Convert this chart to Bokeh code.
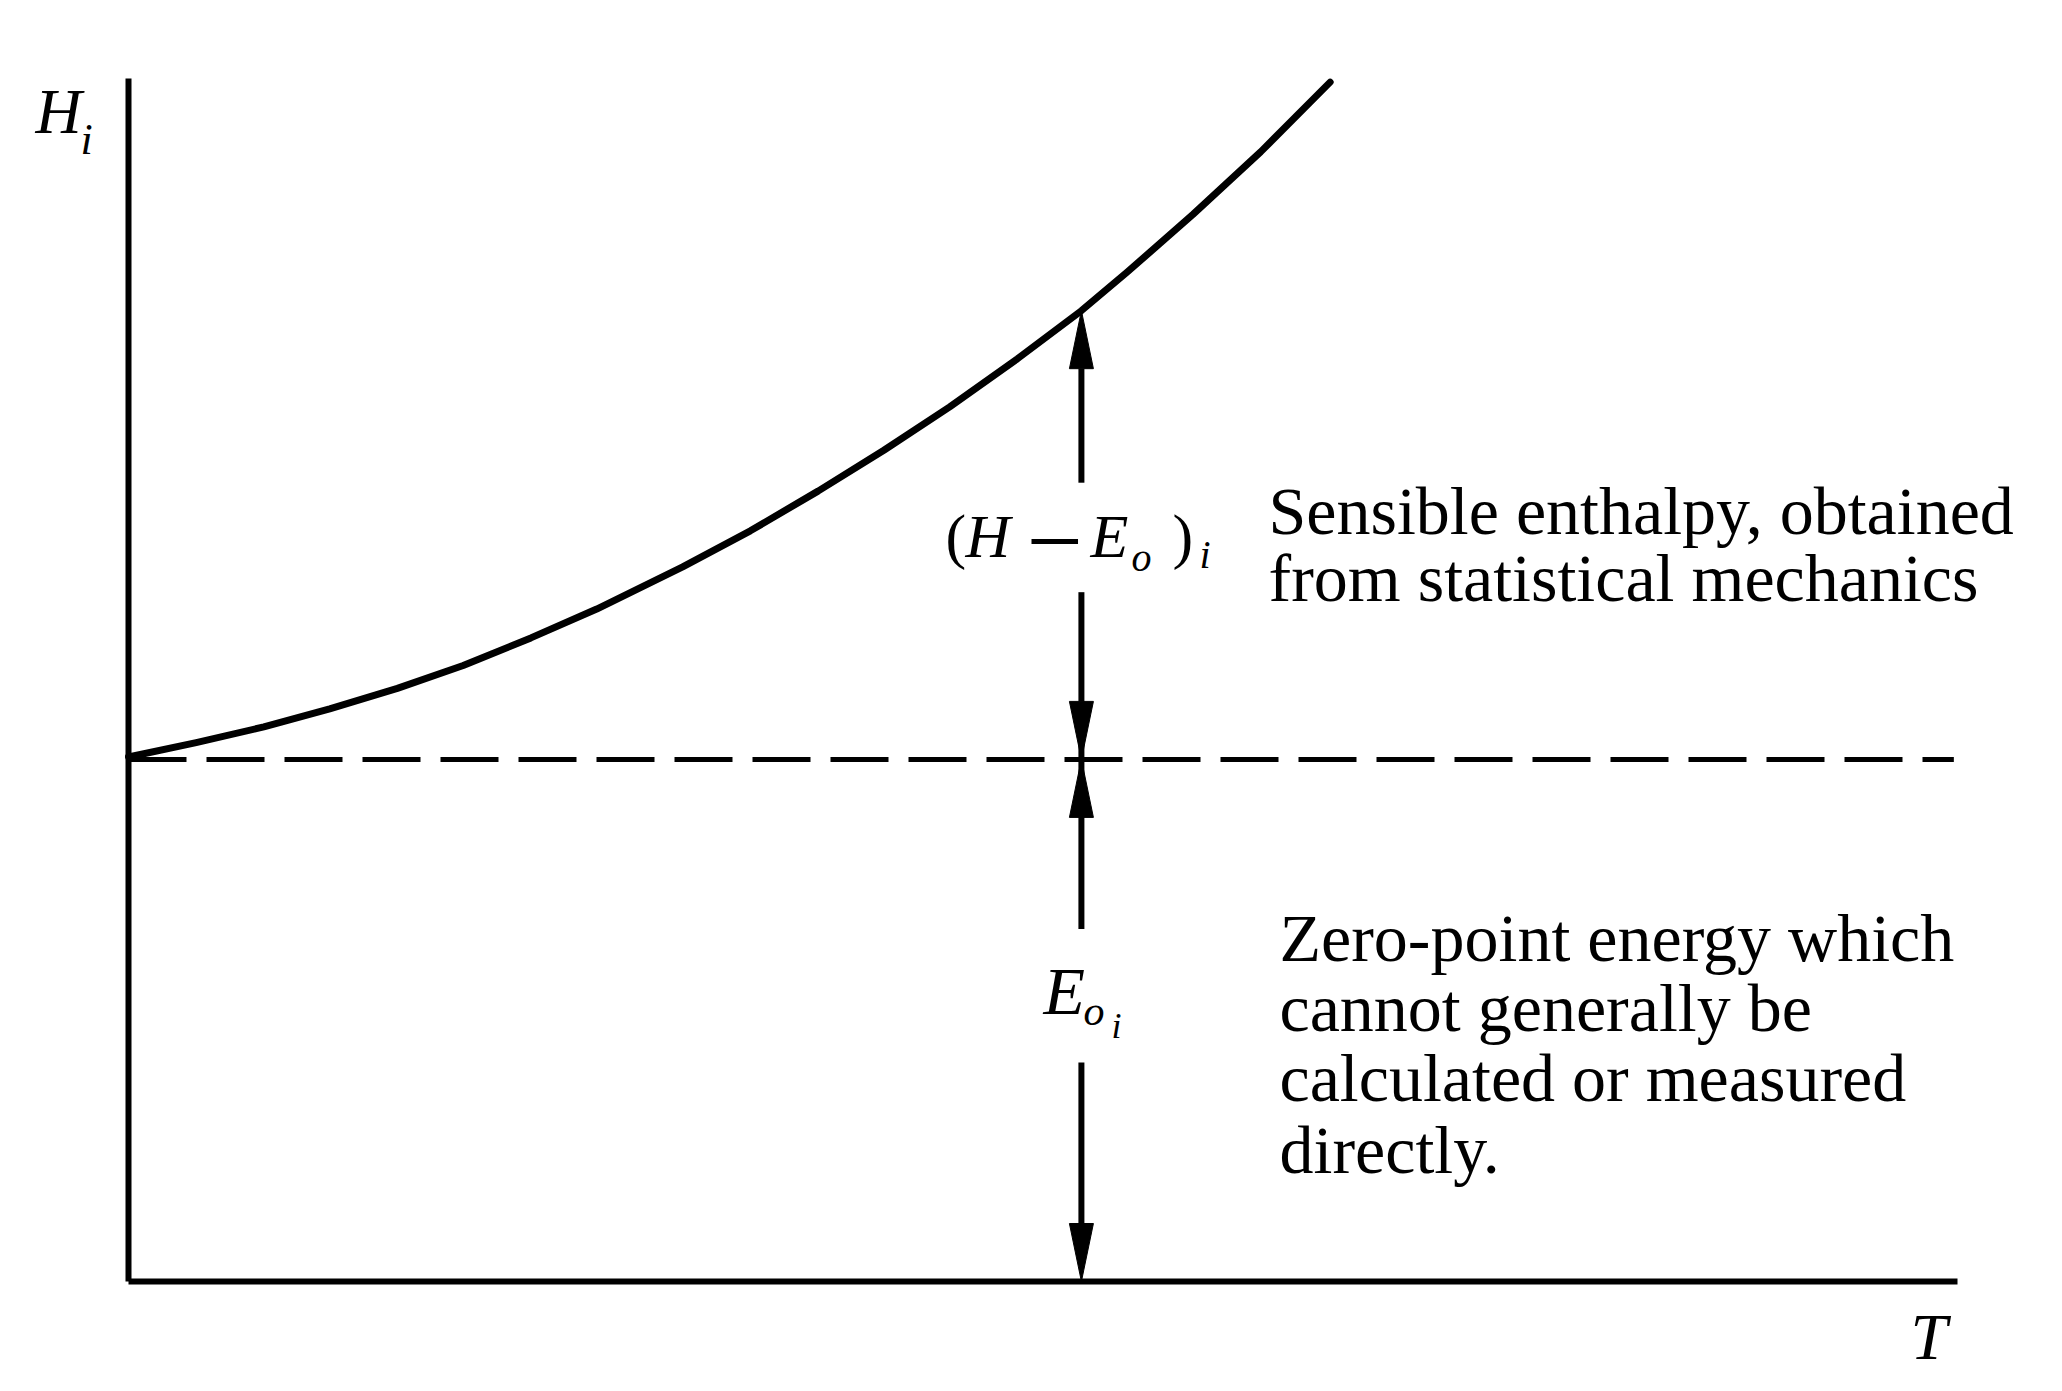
import numpy as np
from bokeh.plotting import figure
from bokeh.models import Range1d, Label
from bokeh.embed import file_html
from bokeh.resources import INLINE

# ---------------- data ----------------
T_curve = [0.0, 0.37, 0.74, 1.10, 1.47, 1.83, 2.20, 2.56, 3.03, 3.40,
           3.77, 4.13, 4.49, 4.86, 5.21, 5.46, 5.82, 6.19, 6.57]
H_curve = [4.36, 4.48, 4.61, 4.76, 4.93, 5.12, 5.35, 5.59, 5.94, 6.24,
           6.57, 6.91, 7.27, 7.67, 8.07, 8.39, 8.87, 9.39, 9.97]
E0 = 4.34            # zero-point energy level (dashed line)
T_axis = [0.0, 10.0]
H_axis = [0.0, 10.0]
T_dash_end = 9.98
T_arrow = 5.21       # temperature at which the two arrows are drawn
gap_upper = [5.73, 6.64]   # break in the upper arrow for its label
gap_lower = [1.82, 2.93]   # break in the lower arrow for its label

upper_lines = ["Sensible enthalpy, obtained", "from statistical mechanics"]
lower_lines = ["Zero-point energy which", "cannot generally be",
               "calculated or measured", "directly."]

# ---------------- layout ----------------
W, HGT = 2046, 1383
ORIGIN = (128, 1281)        # page pixel of (T=0, H=0)
PX_X, PX_Y = 182.9, 120.3   # pixels per data unit
FONT = "Liberation Serif"
INK = "#000000"

x_lo = (0 - ORIGIN[0]) / PX_X
x_hi = (W - ORIGIN[0]) / PX_X
y_hi = (ORIGIN[1] - 0) / PX_Y
y_lo = (ORIGIN[1] - HGT) / PX_Y

p = figure(width=W, height=HGT, x_range=Range1d(x_lo, x_hi), y_range=Range1d(y_lo, y_hi),
           output_backend="svg", toolbar_location=None,
           x_axis_location=None, y_axis_location=None, min_border=0)
p.outline_line_color = None
p.xgrid.visible = False
p.ygrid.visible = False
p.background_fill_color = "white"
p.border_fill_color = "white"

def to_data(xp, yp):
    """page pixel -> data coordinates (for placing text only)"""
    return (xp - ORIGIN[0]) / PX_X, (ORIGIN[1] - yp) / PX_Y

# axes
p.line(T_axis, [H_axis[0], H_axis[0]], line_color=INK, line_width=6)
p.line([T_axis[0], T_axis[0]], H_axis, line_color=INK, line_width=6)

# dashed zero-point line
p.line([T_axis[0], T_dash_end], [E0, E0], line_color=INK, line_width=5, line_dash="58 20")

# enthalpy curve
p.line(T_curve, H_curve, line_color=INK, line_width=7, line_cap="round", line_join="round")

# arrows
H_tip = float(np.interp(T_arrow, T_curve, H_curve))
hl = 58 / PX_Y
hw = 12 / PX_X
tips = [(H_tip, 1), (E0, -1), (E0, 1), (H_axis[0], -1)]
xs = [[T_arrow - hw, T_arrow, T_arrow + hw] for _ in tips]
ys = [[t - d * hl, t, t - d * hl] for t, d in tips]
p.patches(xs, ys, fill_color=INK, line_color=INK, line_width=1)

y0 = [H_tip - hl, gap_upper[0], E0 + hl, gap_lower[0]]
y1 = [gap_upper[1], E0 + hl, gap_lower[1], H_axis[0] + hl]
p.segment([T_arrow] * 4, y0, [T_arrow] * 4, y1, line_color=INK, line_width=6)

def lab(text, xp, yp, size, style="normal"):
    x, y = to_data(xp, yp)
    p.add_layout(Label(x=x, y=y, text=text, text_font=FONT,
                       text_font_size=f"{size}px", text_font_style=style,
                       text_baseline="alphabetic", text_align="left",
                       text_color=INK))

# axis labels
lab("H", 35, 111, 64, "italic")
lab("i", 80, 139, 44, "italic")
lab("T", 1910, 1336, 66, "italic")

# (H - E_o)_i label
lab("(", 945, 535, 62)
lab("H", 965, 535, 62, "italic")
lab("\u2212", 1026, 542, 100)
lab("E", 1090, 535, 62, "italic")
lab("o", 1131, 557, 40, "italic")
lab(")", 1172, 535, 62)
lab("i", 1199, 554, 40, "italic")

# E_o_i label
lab("E", 1043, 990, 68, "italic")
lab("o", 1083, 1010, 42, "italic")
lab("i", 1111, 1025, 36, "italic")

# explanatory text
for yp, s in zip([510, 577], upper_lines):
    lab(s, 1268, yp, 68)
for yp, s in zip([937, 1007, 1077, 1149], lower_lines):
    lab(s, 1279, yp, 68)

open("out.html", "w").write(file_html(p, INLINE))
